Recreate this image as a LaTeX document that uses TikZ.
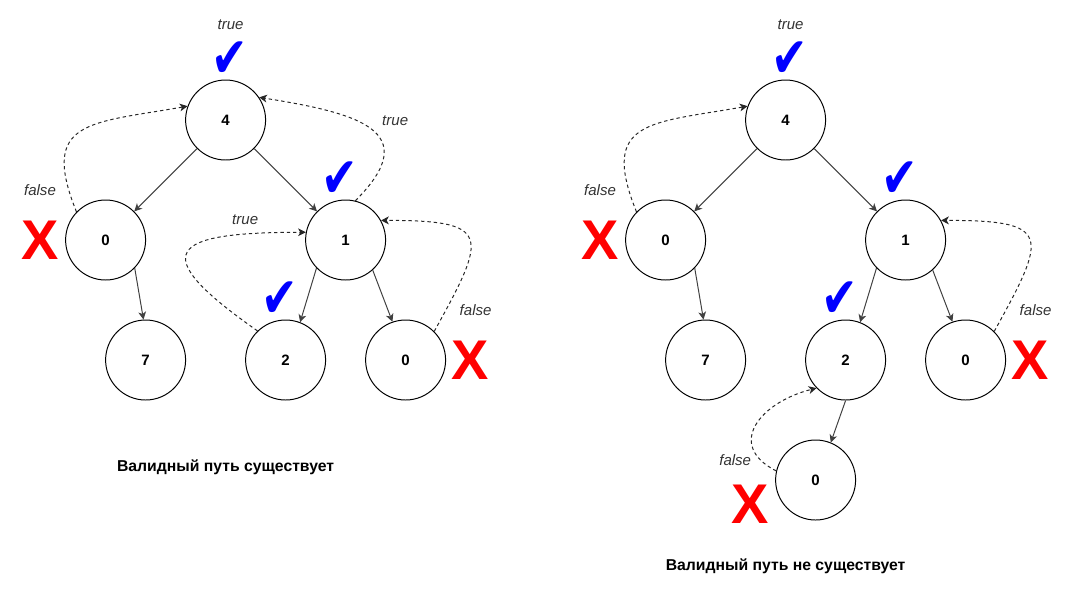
\documentclass[tikz,border=0pt]{standalone}
\usepackage{fontspec}
\setmainfont{Liberation Sans}
\newfontfamily\symfont{DejaVu Sans}
\usetikzlibrary{arrows.meta, positioning}
\newcommand{\tick}{\scalebox{1}[1.3]{\symfont ✔}}
\tikzstyle{vert} = [draw, circle, line width=0.7pt, minimum size=2cm, inner sep=0pt, font=\bfseries\fontsize{10.7}{12}\selectfont]
\tikzstyle{edge} = [draw=black!75, line width=0.7pt, ->]
\tikzstyle{back} = [draw=black!85, line width=0.7pt, dash pattern=on 2.4pt off 2.1pt, ->]
\tikzstyle{lbl} = [text=black!80, inner sep=0pt, font=\itshape\fontsize{10.7}{12}\selectfont]
\tikzstyle{okay} = [text=blue, inner sep=0pt, font=\fontsize{31}{31}\selectfont]
\tikzstyle{fail} = [text=red, inner sep=0pt, font=\bfseries\fontsize{39.8}{40}\selectfont]
\tikzstyle{verdict} = [inner sep=0pt, font=\bfseries\fontsize{11.2}{13}\selectfont]

\begin{document}
\begin{tikzpicture}[on grid, >={Stealth[length=5.5pt,width=5.5pt,inset=1.5pt]}]
\useasboundingbox (0,0) rectangle (27,-15);

\node [vert] (l4) at (5.64,-3) {4};
\node [vert, below left=3cm and 3cm of l4] (l0) {0};
\node [vert, below right=3cm and 3cm of l4] (l1) {1};
\node [vert, below right=3cm and 1cm of l0] (l7) {7};
\node [vert, below left=3cm and 1.5cm of l1] (l2) {2};
\node [vert, below right=3cm and 1.5cm of l1] (l0r) {0};

\node [lbl, above right=2.38cm and 0.125cm of l4] (lt4) {true};
\node [okay, above right=1.52cm and 0.11cm of l4] (lc4) {\tick};
\node [lbl, above left=1.24cm and 1.64cm of l0] (lf0) {false};
\node [fail, left=1.625cm of l0] (lx0) {X};
\node [okay, above left=1.5cm and 0.15cm of l1] (lc1) {\tick};
\node [lbl, above right=2.975cm and 1.24cm of l1] (lt1) {true};
\node [lbl, above left=0.5cm and 2.51cm of l1] (lt2) {true};
\node [okay, above left=1.52cm and 0.14cm of l2] (lc2) {\tick};
\node [lbl, above right=1.25cm and 1.75cm of l0r] (lf0r) {false};
\node [fail, right=1.625cm of l0r] (lx0r) {X};
\node [verdict, below=8.675cm of l4] (lcap) {Валидный путь существует};

\draw [edge] (l4) -- (l0);
\draw [edge] (l4) -- (l1);
\draw [edge] (l0.-44) -- (l7.93);
\draw [edge] (l1.-136) -- (l2.69);
\draw [edge] (l1.-48) -- (l0r.109);

\draw [back] (l0.136) to [out=112, in=190, looseness=1.66] (l4.160);
\draw [back] (l1.76) to [out=45, in=-9, looseness=1.8] (l4.34);
\draw [back] (l2.134) to [out=145, in=180, looseness=3.2] (l1.169);
\draw [back] (l0r.45) to [out=61, in=0, looseness=2.3] (l1.29);

\node [vert] (r4) at (19.64,-3) {4};
\node [vert, below left=3cm and 3cm of r4] (r0) {0};
\node [vert, below right=3cm and 3cm of r4] (r1) {1};
\node [vert, below right=3cm and 1cm of r0] (r7) {7};
\node [vert, below left=3cm and 1.5cm of r1] (r2) {2};
\node [vert, below right=3cm and 1.5cm of r1] (r0r) {0};
\node [vert, below left=3cm and 0.75cm of r2] (r0b) {0};

\node [lbl, above right=2.38cm and 0.125cm of r4] (rt4) {true};
\node [okay, above right=1.52cm and 0.11cm of r4] (rc4) {\tick};
\node [lbl, above left=1.24cm and 1.64cm of r0] (rf0) {false};
\node [fail, left=1.625cm of r0] (rx0) {X};
\node [okay, above left=1.5cm and 0.15cm of r1] (rc1) {\tick};
\node [okay, above left=1.52cm and 0.14cm of r2] (rc2) {\tick};
\node [lbl, above right=1.25cm and 1.75cm of r0r] (rf0r) {false};
\node [fail, right=1.625cm of r0r] (rx0r) {X};
\node [lbl, above left=0.5cm and 2.01cm of r0b] (rfb) {false};
\node [fail, below left=0.6cm and 1.64cm of r0b] (rxb) {X};
\node [verdict, below=11.15cm of r4] (rcap) {Валидный путь не существует};

\draw [edge] (r4) -- (r0);
\draw [edge] (r4) -- (r1);
\draw [edge] (r0.-44) -- (r7.93);
\draw [edge] (r1.-136) -- (r2.69);
\draw [edge] (r1.-48) -- (r0r.109);
\draw [edge] (r2.-90) -- (r0b.68);

\draw [back] (r0.136) to [out=112, in=190, looseness=1.66] (r4.160);
\draw [back] (r0r.45) to [out=61, in=0, looseness=2.3] (r1.29);
\draw [back] (r0b.167) to [out=153, in=194, looseness=1.6] (r2.224);
\end{tikzpicture}
\end{document}
